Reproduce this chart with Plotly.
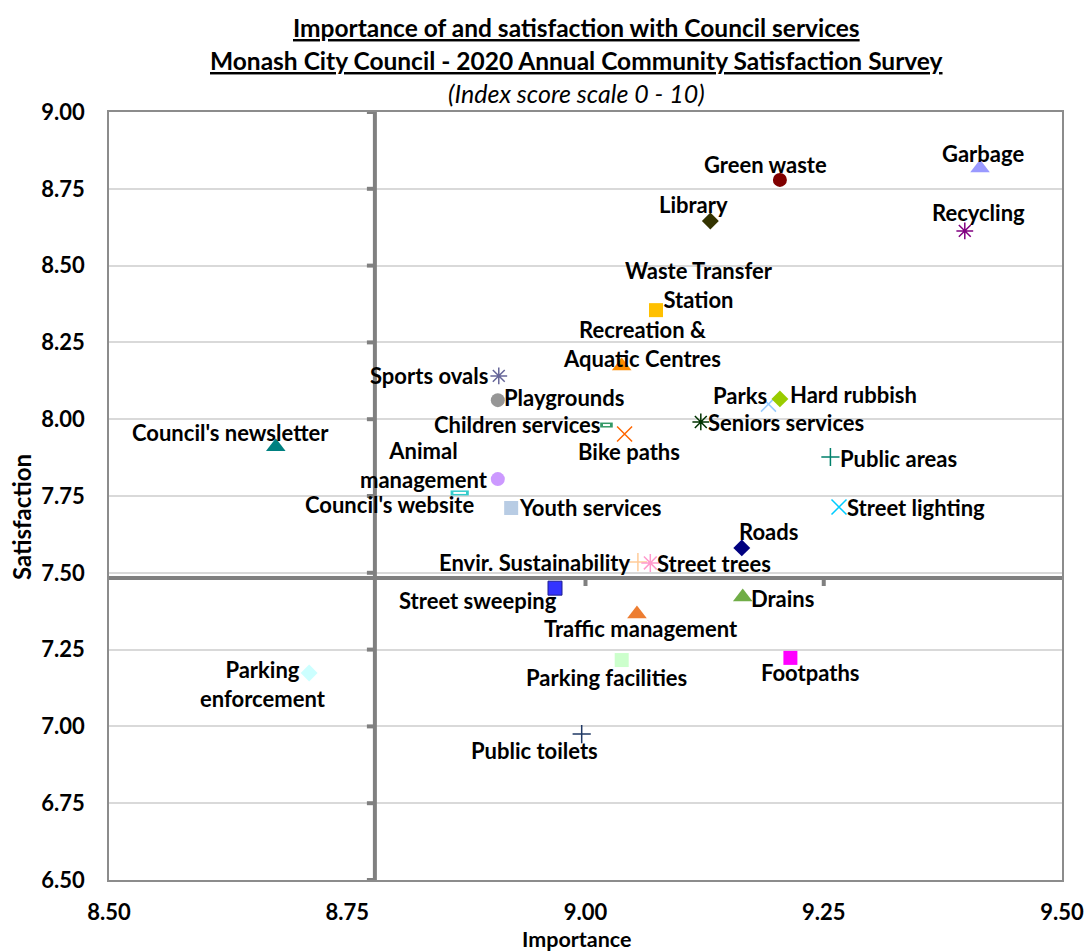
import plotly.graph_objects as go

# ---- data ----
services = ["Green waste", "Garbage", "Library", "Recycling", "Waste Transfer<br>Station",
            "Recreation &<br>Aquatic Centres", "Sports ovals", "Playgrounds", "Parks", "Hard rubbish",
            "Children services", "Seniors services", "Bike paths", "Council's newsletter", "Public areas",
            "Animal<br>management", "Council's website", "Youth services", "Street lighting", "Roads",
            "Envir. Sustainability", "Street trees", "Street sweeping", "Drains", "Traffic management",
            "Parking facilities", "Footpaths", "Parking<br>enforcement", "Public toilets"]
importance = [9.204, 9.414, 9.131, 9.398, 9.074,
              9.038, 8.909, 8.908, 9.192, 9.204,
              9.022, 9.121, 9.041, 8.675, 9.257,
              8.908, 8.868, 8.922, 9.266, 9.164,
              9.055, 9.068, 8.968, 9.165, 9.054,
              9.038, 9.215, 8.710, 8.996]
satisfaction = [8.779, 8.818, 8.645, 8.613, 8.355,
                8.173, 8.141, 8.062, 8.049, 8.066,
                7.981, 7.991, 7.952, 7.910, 7.877,
                7.805, 7.760, 7.711, 7.714, 7.581,
                7.535, 7.532, 7.450, 7.421, 7.366,
                7.216, 7.223, 7.174, 6.975]
avg_importance = 8.779
avg_satisfaction = 7.483
y_ticks = [6.50, 6.75, 7.00, 7.25, 7.50, 7.75, 8.00, 8.25, 8.50, 8.75, 9.00]
x_ticks = [8.50, 8.75, 9.00, 9.25, 9.50]

# ---- styles ----
symbols = ["circle", "triangle-up", "diamond", "asterisk-open", "square",
           "triangle-up", "asterisk-open", "circle", "x-thin-open", "diamond",
           "rect", "asterisk-open", "x-thin-open", "triangle-up", "cross-thin-open",
           "circle", "rect", "square", "x-thin-open", "diamond",
           "cross-thin-open", "asterisk-open", "square", "triangle-up", "triangle-up",
           "square", "square", "diamond", "cross-thin-open"]
colors = ["#800000", "#9999FF", "#333300", "#800080", "#FFC000",
          "#FF8C00", "#666699", "#969696", "#99CCFF", "#99CC00",
          "#339966", "#003300", "#FF6600", "#008080", "#00806B",
          "#CC99FF", "#33CCCC", "#B8CCE4", "#00CCFF", "#000080",
          "#FFCC99", "#FF99CC", "#3333FF", "#70AD47", "#ED7D31",
          "#CCFFCC", "#FF00FF", "#CCFFFF", "#1F3864"]
sizes = [14, 17, 13, 14, 14,
         17, 14, 14, 15, 13,
         9, 14, 15, 17, 13,
         14, 13, 14, 15, 13,
         13, 15, 14, 17, 17,
         14, 14, 13, 13]
# label offsets in pixels (dx right, dy up)
label_dx = [-14, 3, -17, 14, 43, 20, -70, 66, -28, 74, -89, 85, 4, -45, 68,
            -74, -70, 79, 77, 27, -103, 64, -77, 40, 4, -15, 20, -46, -47]
label_dy = [15, 14, 17, 18, 25, 22, 0, 3, 9, 4, 1, -1, -18, 14, -2,
            14, -12, 0, 0, 16, 0, -1, -12, -1, -15, -17, -15, -11, -16]

FONT = "Lato, 'Open Sans', sans-serif"

fig = go.Figure()

for i, name in enumerate(services):
    sym = symbols[i]
    x, y = [importance[i]], [satisfaction[i]]
    if sym == "rect":
        # flat hollow rectangle: coloured thick dash with white core
        fig.add_trace(go.Scatter(x=x, y=y, mode="markers", showlegend=False, hoverinfo="skip",
                                 marker=dict(symbol="line-ew-open", size=sizes[i], color=colors[i],
                                             line=dict(color=colors[i], width=5))))
        fig.add_trace(go.Scatter(x=x, y=y, mode="markers", showlegend=False, hoverinfo="skip",
                                 marker=dict(symbol="line-ew-open", size=sizes[i] - 4, color="white",
                                             line=dict(color="white", width=2))))
    else:
        is_line = sym.endswith("-open")
        marker = dict(symbol=sym, size=sizes[i], color=colors[i],
                      line=dict(color=colors[i], width=1.5 if is_line else 0))
        if name == "Street sweeping":
            marker["line"] = dict(color="#1F1F8F", width=1)
        fig.add_trace(go.Scatter(x=x, y=y, mode="markers", marker=marker, name=name,
                                 showlegend=False, hoverinfo="skip"))
    fig.add_annotation(x=importance[i], y=satisfaction[i], text="<b>" + name + "</b>",
                       showarrow=False, xshift=label_dx[i], yshift=label_dy[i],
                       xanchor="center", yanchor="middle",
                       font=dict(family=FONT, size=22, color="#000000"))

# quadrant lines
fig.add_shape(type="line", xref="x", yref="y", x0=avg_importance, x1=avg_importance,
              y0=y_ticks[0], y1=y_ticks[-1], line=dict(color="#808080", width=4), layer="above")
fig.add_shape(type="line", xref="x", yref="y", x0=x_ticks[0], x1=x_ticks[-1],
              y0=avg_satisfaction, y1=avg_satisfaction, line=dict(color="#808080", width=4), layer="above")
for yt in y_ticks:
    fig.add_shape(type="line", xref="x", yref="y", xsizemode="pixel", xanchor=avg_importance,
                  x0=-8, x1=0, y0=yt, y1=yt, line=dict(color="#808080", width=4))
for xt in x_ticks[1:-1]:
    if xt < avg_importance:
        continue
    fig.add_shape(type="line", xref="x", yref="y", ysizemode="pixel", yanchor=avg_satisfaction,
                  y0=-8, y1=0, x0=xt, x1=xt, line=dict(color="#808080", width=4))
fig.add_shape(type="line", xref="x", yref="y", ysizemode="pixel", yanchor=y_ticks[0],
              y0=-6, y1=0, x0=avg_importance, x1=avg_importance, line=dict(color="#808080", width=4))

# titles
fig.add_annotation(xref="paper", yref="paper", x=0.4906, y=1.0, yshift=85, showarrow=False,
                   text="<b><u>Importance of and satisfaction with Council services</u></b>",
                   font=dict(family=FONT, size=24.5, color="#000"), yanchor="middle")
fig.add_annotation(xref="paper", yref="paper", x=0.4906, y=1.0, yshift=52, showarrow=False,
                   text="<b><u>Monash City Council - 2020 Annual Community Satisfaction Survey</u></b>",
                   font=dict(family=FONT, size=24.5, color="#000"), yanchor="middle")
fig.add_annotation(xref="paper", yref="paper", x=0.4906, y=1.0, yshift=19, showarrow=False,
                   text="<i>(Index score scale 0 - 10)</i>",
                   font=dict(family=FONT, size=25, color="#000"), yanchor="middle")
fig.add_annotation(xref="paper", yref="paper", x=0, xshift=-87, y=0.4727, showarrow=False,
                   text="<b>Satisfaction</b>", textangle=-90,
                   font=dict(family=FONT, size=24, color="#000"), xanchor="center", yanchor="middle")
fig.add_annotation(xref="paper", yref="paper", x=0.4906, y=0, yshift=-59, showarrow=False,
                   text="<b>Importance</b>",
                   font=dict(family=FONT, size=21.5, color="#000"), xanchor="center", yanchor="middle")

fig.update_layout(
    width=1087, height=952,
    margin=dict(l=109, r=25, t=112, b=72),
    paper_bgcolor="white", plot_bgcolor="white",
    font=dict(family=FONT, color="#000"),
    xaxis=dict(range=[x_ticks[0], x_ticks[-1]], tickvals=x_ticks, automargin=False,
               ticktext=["<b>%.2f</b>" % v for v in x_ticks],
               showgrid=False, zeroline=False, showline=True, linecolor="#8C8C8C", linewidth=1.5,
               mirror=True, ticks="", tickfont=dict(size=22, family=FONT), ticklabelstandoff=12),
    yaxis=dict(range=[y_ticks[0], y_ticks[-1]], tickvals=y_ticks, automargin=False,
               ticktext=["<b>%.2f</b>" % v for v in y_ticks],
               showgrid=True, gridcolor="#D9D9D9", gridwidth=1.5, zeroline=False,
               showline=True, linecolor="#8C8C8C", linewidth=1.5, mirror=True, ticks="",
               tickfont=dict(size=22, family=FONT), ticklabelstandoff=18),
)

# remove the default 8px page margin so the figure fills the window exactly
fig.write_html("out.html", config={"displayModeBar": False},
               post_script="document.body.style.margin='0';document.body.style.overflow='hidden';")
